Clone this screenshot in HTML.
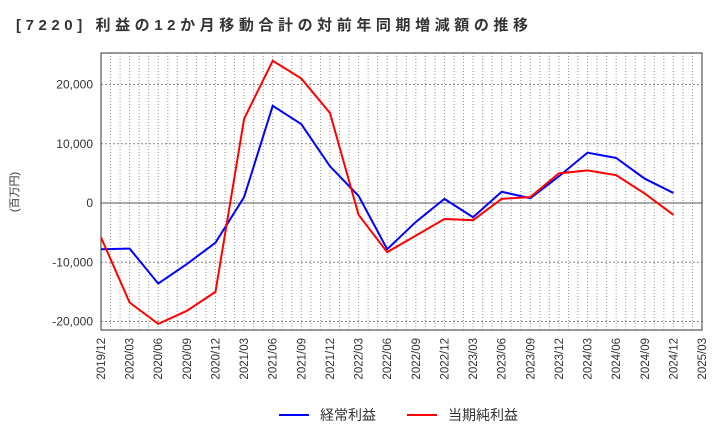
<!DOCTYPE html>
<html><head><meta charset="utf-8"><style>
body{margin:0;background:#fff;font-family:"Liberation Sans","Noto Sans CJK JP",sans-serif}
</style></head><body>
<svg id="c" width="720" height="440" xmlns="http://www.w3.org/2000/svg" font-family="Liberation Sans, Noto Sans CJK JP, sans-serif">
<text x="16" y="30" font-size="15" font-weight="bold" fill="#333" textLength="512" lengthAdjust="spacing">[7220]  利益の12か月移動合計の対前年同期増減額の推移</text>
<text transform="translate(18,192) rotate(-90)" text-anchor="middle" font-size="11" fill="#333">(百万円)</text>
<g id="grid"></g><g id="axes"></g><g id="series"></g>
<g>
<line x1="279" y1="415" x2="309" y2="415" stroke="#0000ff" stroke-width="2"/>
<text x="320" y="420" font-size="14" fill="#333">経常利益</text>
<line x1="407" y1="415" x2="437" y2="415" stroke="#ff0000" stroke-width="2"/>
<text x="448" y="420" font-size="14" fill="#333">当期純利益</text>
</g>
</svg>
<script>
const categories=["2019/12","2020/03","2020/06","2020/09","2020/12","2021/03","2021/06","2021/09","2021/12","2022/03","2022/06","2022/09","2022/12","2023/03","2023/06","2023/09","2023/12","2024/03","2024/06","2024/09","2024/12","2025/03"];
const keijo=[-7800,-7700,-13600,-10300,-6700,1000,16400,13300,6200,1200,-7800,-3200,700,-2400,1900,800,4500,8500,7600,4100,1700];
const junri=[-5800,-16800,-20400,-18200,-15000,14200,24000,21000,15200,-2000,-8300,-5500,-2700,-2900,700,1000,5000,5500,4700,1600,-2000];
const yTicks=[-20000,-10000,0,10000,20000];
const yTickLabels=["-20,000","-10,000","0","10,000","20,000"];
const L=101,R=702,T=53,B=330;
const ns="http://www.w3.org/2000/svg";
const X=i=>L+(R-L)*i/(categories.length-1);
const Y=v=>203-v*118.5/20000;
function mk(p,t,a){const e=document.createElementNS(ns,t);for(const k in a)e.setAttribute(k,a[k]);document.getElementById(p).appendChild(e);return e;}
for(let m=1;m<63;m++){const x=L+(R-L)*m/63;
const g=mk('grid','line',{x1:x,y1:T,x2:x,y2:B,stroke:'#999','stroke-dasharray':'1,2','stroke-width':1});

}
yTicks.forEach((v,i)=>{const y=Y(v);
const g=mk('grid','line',{x1:L,y1:y,x2:R,y2:y,stroke:v===0?'#555':'#888','stroke-dasharray':v===0?'none':'2,2','stroke-width':1});


const t=mk('axes','text',{x:L-8,y:y+4,'text-anchor':'end','font-size':12,fill:'#333'});t.textContent=yTickLabels[i];

});
categories.forEach((c,i)=>{const x=X(i);
const t=mk('axes','text',{transform:`translate(${x+4},${B+8}) rotate(-90)`,'text-anchor':'end','font-size':11.5,fill:'#333'});t.textContent=c;

});
const f=mk('axes','rect',{x:L,y:T,width:R-L,height:B-T,fill:'none',stroke:'#333','stroke-width':1});


[[keijo,'#0000ff','keijo-line'],[junri,'#ff0000','junri-line']].forEach(([d,c,n])=>{
const p=mk('series','polyline',{points:d.map((v,i)=>X(i)+','+Y(v)).join(' '),fill:'none',stroke:c,'stroke-width':2});

});
</script>
</body></html>
